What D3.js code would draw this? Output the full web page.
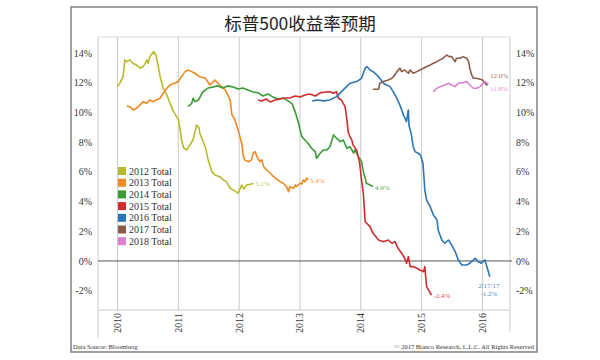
<!DOCTYPE html>
<html><head><meta charset="utf-8">
<script src="https://cdn.jsdelivr.net/npm/d3@7"></script>
<style>body{margin:0;background:#fff}svg{display:block}</style>
</head><body>
<svg id="c" width="600" height="360"></svg>
<script>
// ---- data (decimal year, expected return %) ----
const s2012 = [[2010.005,11.73],[2010.05,11.98],[2010.10,12.40],[2010.13,13.53],[2010.16,13.41],[2010.21,13.53],[2010.26,13.30],[2010.32,13.19],[2010.38,12.97],[2010.43,13.08],[2010.48,13.41],[2010.49,13.53],[2010.51,13.30],[2010.54,13.75],[2010.60,14.08],[2010.64,13.86],[2010.68,13.08],[2010.71,12.40],[2010.76,11.62],[2010.82,11.17],[2010.87,10.63],[2010.93,10.05],[2010.98,9.71],[2011.01,9.49],[2011.04,8.82],[2011.06,8.14],[2011.10,7.58],[2011.15,7.47],[2011.20,7.81],[2011.25,8.14],[2011.31,9.15],[2011.35,8.95],[2011.36,8.61],[2011.45,7.69],[2011.50,6.80],[2011.56,6.01],[2011.61,5.79],[2011.69,5.67],[2011.75,5.45],[2011.80,5.34],[2011.86,4.89],[2011.91,4.78],[2011.99,4.56],[2012.03,4.91],[2012.05,5.11],[2012.08,4.85],[2012.13,5.11],[2012.21,5.18],[2012.24,5.23]];
const s2013 = [[2010.16,10.43],[2010.21,10.38],[2010.27,10.16],[2010.32,10.28],[2010.38,10.50],[2010.43,10.72],[2010.49,10.61],[2010.54,10.83],[2010.60,10.72],[2010.65,10.83],[2010.71,10.95],[2010.76,11.29],[2010.82,11.62],[2010.87,11.84],[2010.95,11.96],[2011.01,12.07],[2011.06,12.40],[2011.12,12.74],[2011.17,12.85],[2011.23,12.74],[2011.28,12.63],[2011.36,12.40],[2011.45,12.31],[2011.53,11.84],[2011.61,12.18],[2011.69,11.84],[2011.78,11.51],[2011.82,11.17],[2011.86,10.83],[2011.89,9.83],[2011.94,9.49],[2011.99,8.82],[2012.05,7.94],[2012.08,7.02],[2012.10,6.80],[2012.16,6.68],[2012.21,6.80],[2012.24,7.25],[2012.27,7.36],[2012.30,7.02],[2012.35,6.68],[2012.38,6.80],[2012.41,6.35],[2012.46,6.12],[2012.52,5.90],[2012.60,5.57],[2012.68,5.34],[2012.73,5.23],[2012.79,5.00],[2012.82,4.66],[2012.84,5.00],[2012.90,4.89],[2012.93,5.11],[2012.95,5.00],[2013.01,5.23],[2013.04,5.18],[2013.06,5.45],[2013.09,5.34],[2013.12,5.57],[2013.14,5.45]];
const s2014 = [[2011.17,10.38],[2011.23,10.61],[2011.25,10.95],[2011.28,10.72],[2011.34,10.83],[2011.41,11.37],[2011.50,11.64],[2011.58,11.71],[2011.66,11.78],[2011.74,11.64],[2011.82,11.78],[2011.91,11.71],[2011.99,11.57],[2012.07,11.64],[2012.15,11.51],[2012.24,11.37],[2012.32,11.31],[2012.40,11.10],[2012.48,11.24],[2012.56,11.04],[2012.65,10.90],[2012.73,10.97],[2012.81,10.77],[2012.88,10.57],[2012.93,10.03],[2012.98,9.35],[2013.01,8.82],[2013.04,8.36],[2013.09,8.14],[2013.14,7.92],[2013.20,7.58],[2013.26,7.36],[2013.28,6.91],[2013.34,7.25],[2013.39,7.47],[2013.45,7.47],[2013.50,7.69],[2013.56,8.48],[2013.61,8.26],[2013.67,8.03],[2013.72,8.14],[2013.78,7.58],[2013.83,7.69],[2013.89,7.25],[2013.91,7.47],[2013.97,7.02],[2014.02,6.68],[2014.05,6.01],[2014.08,5.57],[2014.10,5.23],[2014.16,5.11],[2014.21,5.00]];
const s2015 = [[2012.32,10.83],[2012.38,10.77],[2012.45,10.90],[2012.52,10.70],[2012.60,10.83],[2012.68,10.90],[2012.76,10.97],[2012.84,10.97],[2012.93,11.10],[2013.01,11.04],[2013.09,11.17],[2013.17,11.24],[2013.26,11.10],[2013.34,11.31],[2013.42,11.37],[2013.50,11.39],[2013.56,11.29],[2013.61,11.39],[2013.64,10.95],[2013.69,10.83],[2013.75,10.38],[2013.78,9.49],[2013.80,8.70],[2013.83,8.36],[2013.86,8.14],[2013.88,7.81],[2013.94,7.47],[2013.99,6.57],[2014.02,5.45],[2014.05,4.56],[2014.08,2.64],[2014.16,2.31],[2014.21,1.86],[2014.30,1.41],[2014.38,1.30],[2014.46,1.41],[2014.52,1.19],[2014.57,1.30],[2014.62,0.85],[2014.68,0.52],[2014.73,0.18],[2014.76,-0.15],[2014.79,0.29],[2014.82,-0.38],[2014.87,-0.38],[2014.93,-0.49],[2014.98,-0.61],[2015.04,-0.72],[2015.06,-0.38],[2015.09,-1.73],[2015.12,-1.95],[2015.17,-2.29]];
const s2016 = [[2013.21,10.77],[2013.30,10.83],[2013.40,10.77],[2013.50,10.83],[2013.61,11.06],[2013.72,11.51],[2013.83,11.96],[2013.94,12.07],[2014.02,12.29],[2014.08,12.97],[2014.11,13.08],[2014.16,12.85],[2014.21,12.74],[2014.27,12.52],[2014.32,12.29],[2014.38,11.96],[2014.43,11.84],[2014.49,11.73],[2014.54,11.39],[2014.60,10.95],[2014.65,10.50],[2014.71,9.83],[2014.76,9.37],[2014.79,10.16],[2014.80,9.15],[2014.84,8.48],[2014.87,7.69],[2014.90,7.36],[2014.95,7.25],[2014.99,7.13],[2015.03,6.57],[2015.05,5.45],[2015.06,4.78],[2015.09,4.10],[2015.15,3.65],[2015.20,3.10],[2015.26,2.76],[2015.28,2.09],[2015.34,1.41],[2015.39,1.19],[2015.45,1.41],[2015.50,1.08],[2015.56,0.63],[2015.61,0.07],[2015.67,-0.27],[2015.75,-0.27],[2015.80,-0.15],[2015.89,0.18],[2015.94,-0.05],[2015.99,-0.15],[2016.05,0.07],[2016.08,-0.38],[2016.13,-1.06]];
const s2017 = [[2014.21,11.55],[2014.30,11.55],[2014.32,11.96],[2014.38,12.07],[2014.46,12.18],[2014.52,12.29],[2014.57,12.52],[2014.60,12.74],[2014.65,12.97],[2014.68,12.74],[2014.73,12.85],[2014.79,12.63],[2014.82,12.85],[2014.87,12.63],[2014.93,12.74],[2014.98,12.85],[2015.04,12.97],[2015.09,13.08],[2015.15,13.19],[2015.20,13.30],[2015.26,13.41],[2015.31,13.53],[2015.36,13.64],[2015.42,13.86],[2015.46,13.75],[2015.50,13.75],[2015.56,13.41],[2015.58,13.64],[2015.64,13.64],[2015.69,13.75],[2015.75,13.64],[2015.78,13.41],[2015.80,12.97],[2015.83,12.52],[2015.86,12.29],[2015.91,12.29],[2015.97,12.23],[2016.01,12.18],[2016.05,11.96],[2016.08,11.84],[2016.10,11.96]];
const s2018 = [[2015.20,11.39],[2015.26,11.62],[2015.31,11.73],[2015.39,11.84],[2015.45,11.96],[2015.50,11.84],[2015.56,11.73],[2015.61,11.96],[2015.69,12.00],[2015.75,12.07],[2015.80,11.84],[2015.86,11.62],[2015.91,11.62],[2015.97,11.73],[2016.02,11.96],[2016.05,12.07],[2016.08,11.96],[2016.10,11.91]];
const seriesNames = ["2012 Total","2013 Total","2014 Total","2015 Total","2016 Total","2017 Total","2018 Total"];
const seriesData = [s2012,s2013,s2014,s2015,s2016,s2017,s2018];
const colors = ["#b7ba2c","#f0871f","#3a9b36","#d22d2d","#2c76b6","#8b5a4b","#df7fcf"];
const yTicks = [-2,0,2,4,6,8,10,12,14];
const xTicks = [2010,2011,2012,2013,2014,2015,2016];
const endLabels = [
  {s:0, text:"5.1%", dy:3},{s:1, text:"5.4%", dy:3},{s:2, text:"4.9%", dy:3},{s:3, text:"-2.4%", dy:3},
  {s:5, text:"12.0%", dy:-5},{s:6, text:"11.8%", dy:7}
];
const blueLabel = ["2/17/17","-1.2%"];
const title = "标普500收益率预期";
const source = "Data Source: Bloomberg";
const copyright = "© 2017 Bianco Research, L.L.C. All Rights Reserved";

// ---- drawing ----
const svg = d3.select("#c");
const serif = "'Liberation Serif','DejaVu Serif',serif";
const L=98, R=510, T=37, B=310;
const x = d3.scaleLinear().domain([2009.688, 2016.461]).range([L, R]);
const y = d3.scaleLinear().domain([-3.3, 15.07]).range([B, T]);

// frame
svg.append("rect").attr("x",71).attr("y",7).attr("width",466).attr("height",345)
  .attr("fill","none").attr("stroke","#777").attr("stroke-width",1.4);

svg.append("text").attr("x",300).attr("y",30).attr("text-anchor","middle")
  .attr("font-family","'Noto Sans CJK SC',sans-serif").attr("font-size",17.5).attr("fill","#222").text(title);

// plot border lines
const g = svg.append("g");
g.append("line").attr("x1",L).attr("x2",R).attr("y1",T).attr("y2",T).attr("stroke","#ddd");
g.append("line").attr("x1",L).attr("x2",R).attr("y1",B).attr("y2",B).attr("stroke","#ccc");
g.append("line").attr("x1",L).attr("x2",L).attr("y1",T).attr("y2",338).attr("stroke","#ccc");
g.append("line").attr("x1",R).attr("x2",R).attr("y1",T).attr("y2",332).attr("stroke","#ccc");

// vertical year gridlines via axis
const gx = svg.append("g").attr("transform",`translate(0,${B})`)
  .call(d3.axisBottom(x).tickValues(xTicks).tickSize(-(B-T)).tickFormat(d=>d));
gx.select(".domain").remove();
gx.selectAll("line").attr("stroke","#c8c8c8");
gx.selectAll("text").attr("font-family",serif).attr("font-size",10).attr("fill","#333")
  .attr("text-anchor","end").attr("transform","rotate(-90)")
  .attr("x",-3).attr("y",0).attr("dy","0.35em");

// zero line
svg.append("line").attr("x1",L).attr("x2",512).attr("y1",y(0)).attr("y2",y(0))
  .attr("stroke","#555").attr("stroke-width",1);

// y axes
const fmt = d=>d+"%";
const gl = svg.append("g").attr("transform",`translate(${L-3},0)`)
  .call(d3.axisLeft(y).tickValues(yTicks).tickSize(0).tickFormat(fmt));
const gr = svg.append("g").attr("transform",`translate(${R+3},0)`)
  .call(d3.axisRight(y).tickValues(yTicks).tickSize(0).tickFormat(fmt));
[gl,gr].forEach(a=>{a.select(".domain").remove();
  a.selectAll("text").attr("font-family",serif).attr("font-size",10).attr("fill","#333");});

// lines
const line = d3.line().x(d=>x(d[0])).y(d=>y(d[1]));
seriesData.forEach((s,i)=>{
  svg.append("path").datum(s).attr("d",line).attr("fill","none")
    .attr("stroke",colors[i]).attr("stroke-width",1.6).attr("stroke-linejoin","round");
});

// end labels
endLabels.forEach(e=>{
  const last = seriesData[e.s][seriesData[e.s].length-1];
  svg.append("text").attr("x",x(last[0])+2).attr("y",y(last[1])+e.dy)
    .attr("font-family",serif).attr("font-size",7).attr("fill",colors[e.s]).attr("opacity",0.85).text(e.text);
});
const bl = s2016[s2016.length-1];
blueLabel.forEach((t,i)=>{
  svg.append("text").attr("x",x(bl[0])-1).attr("y",y(bl[1])+11+i*8).attr("text-anchor","middle")
    .attr("font-family",serif).attr("font-size",7).attr("fill",colors[4]).attr("opacity",0.85).text(t);
});

// legend
const lg = svg.append("g").attr("transform","translate(118,167)");
seriesNames.forEach((n,i)=>{
  const r = lg.append("g").attr("transform",`translate(0,${i*11.7})`);
  r.append("rect").attr("width",8).attr("height",8).attr("fill",colors[i]);
  r.append("text").attr("x",11).attr("y",7.5).attr("font-family",serif).attr("font-size",10)
    .attr("fill","#333").text(n);
});

// footers
svg.append("text").attr("x",73).attr("y",349).attr("font-family",serif).attr("font-size",6.5).attr("fill","#333").text(source);
svg.append("text").attr("x",534).attr("y",349).attr("text-anchor","end").attr("font-family",serif).attr("font-size",6.5).attr("fill","#333").text(copyright);
</script>
</body></html>
